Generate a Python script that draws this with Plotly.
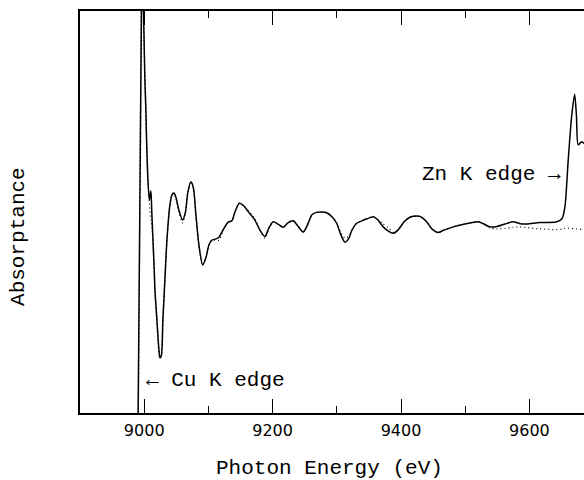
import plotly.graph_objects as go

# Photon energy (eV)
energy = [8985, 8990, 8996.5, 9001.1, 9002.6, 9003.7, 9005.8, 9008.1, 9010.4, 9012.0,
          9015.6, 9016.7, 9019.8, 9022.9, 9024.5, 9026.8, 9029.1, 9032.2, 9035.4, 9040.0,
          9043.1, 9046.3, 9049.4, 9054.0, 9059.8, 9064.2, 9068.1, 9072.7, 9076.6, 9080.5,
          9085.2, 9091.0, 9096.1, 9100.8, 9105.4, 9111.7, 9116.8, 9122.6, 9130.8, 9136.6,
          9141.3, 9148.0, 9155.3, 9162.0, 9172.4, 9180.2, 9188.0, 9194.2, 9200.9, 9208.3,
          9216.5, 9223.8, 9232.1, 9239.4, 9247.7, 9255.0, 9261.2, 9268.5, 9276.8, 9284.1,
          9292.4, 9299.7, 9306.4, 9312.6, 9318.9, 9323.5, 9330.8, 9339.1, 9346.9, 9356.7,
          9364.0, 9372.3, 9379.6, 9387.8, 9395.2, 9404.5, 9413.9, 9424.3, 9431.0, 9439.9,
          9448.1, 9457.9, 9466.8, 9481.3, 9499.5, 9520.2, 9529.1, 9538.5, 9549.4, 9561.8,
          9574.8, 9585.2, 9596.1, 9616.3, 9641.3, 9650.6, 9655.3, 9660.4, 9665.7, 9670.4,
          9673.2, 9676.0, 9681.3, 9684.9, 9694.2]

# Measured absorptance (arbitrary units, solid line)
absorp_measured = [-30, -10, 115, 82.8, 75.4, 67.9, 58.0, 53.0, 55.2, 49.3,
                   35.6, 30.6, 23.1, 15.7, 13.7, 14.4, 23.1, 33.1, 43.0, 51.7,
                   54.2, 54.7, 53.7, 50.5, 48.0, 50.0, 55.0, 57.5, 56.0, 49.3,
                   41.8, 36.8, 38.6, 41.8, 43.0, 43.3, 43.8, 45.5, 47.5, 47.8,
                   50.0, 52.2, 51.5, 50.1, 48.0, 45.5, 43.9, 46.0, 47.6, 47.0,
                   46.2, 47.3, 47.8, 46.5, 45.0, 47.0, 49.3, 49.9, 50.0, 49.8,
                   48.8, 47.2, 44.3, 42.5, 43.5, 45.5, 47.2, 47.8, 48.3, 48.8,
                   48.0, 46.3, 45.3, 44.7, 45.5, 47.5, 48.7, 49.0, 48.8, 47.6,
                   45.8, 44.9, 45.5, 46.3, 47.0, 47.6, 47.0, 46.3, 46.4, 47.0,
                   47.6, 47.1, 47.0, 47.4, 47.5, 48.3, 51.3, 62.9, 73.7, 79.3,
                   74.1, 66.7, 67.5, 67.1, 66.4]

# Calculated absorptance (arbitrary units, dotted line)
absorp_calc = [-30, -10, 115, 82.8, 75.4, 67.9, 58.0, 52.0, 48.0, 46.5,
               35.6, 30.6, 23.1, 15.7, 13.7, 14.4, 23.1, 33.1, 43.0, 51.7,
               54.2, 54.7, 53.2, 50.0, 47.3, 49.6, 55.0, 57.5, 56.0, 49.3,
               41.8, 36.8, 38.6, 41.8, 43.0, 43.0, 43.0, 45.3, 47.5, 47.8,
               50.0, 52.2, 51.5, 50.4, 48.3, 45.5, 43.5, 46.0, 47.6, 47.0,
               46.2, 47.3, 47.8, 46.5, 45.0, 47.0, 49.3, 49.9, 50.0, 49.8,
               48.8, 47.4, 44.8, 43.5, 44.0, 45.5, 47.2, 47.8, 48.3, 48.8,
               48.2, 47.0, 46.2, 45.0, 45.5, 47.5, 48.7, 49.0, 48.8, 47.6,
               45.8, 44.9, 45.5, 46.3, 47.0, 47.6, 47.0, 46.0, 45.8, 45.9,
               46.2, 46.3, 46.1, 45.8, 45.6, 45.7, 45.9, 46.0, 45.9, 45.8,
               45.8, 45.7, 45.7, 45.7, 45.6]

x_ticks = [9000, 9200, 9400, 9600]
x_tick_labels = ["9000", "9200", "9400", "9600"]

MONO = "Liberation Mono"

fig = go.Figure()
fig.add_trace(go.Scatter(x=energy, y=absorp_calc, mode="lines",
                         line=dict(color="black", width=1.2, dash="1px,3px",
                                   shape="spline", smoothing=0.7),
                         showlegend=False, hoverinfo="skip"))
fig.add_trace(go.Scatter(x=energy, y=absorp_measured, mode="lines",
                         line=dict(color="black", width=1.5,
                                   shape="spline", smoothing=0.7),
                         showlegend=False, hoverinfo="skip"))

fig.update_layout(
    width=584, height=480,
    margin=dict(l=80, r=0, t=11, b=67),
    paper_bgcolor="white", plot_bgcolor="white",
    xaxis=dict(range=[8900, 9685], showgrid=False, zeroline=False,
               showline=True, linecolor="black", linewidth=1.5, mirror="allticks",
               ticks="inside", ticklen=14, tickwidth=1.3, tickcolor="black",
               tickvals=x_ticks, ticktext=x_tick_labels,
               tickfont=dict(family="DejaVu Sans", size=16, color="black"),
               ticklabelstandoff=2,
               minor=dict(dtick=100, tick0=9000, ticks="inside", ticklen=7,
                          tickwidth=1.3, tickcolor="black", showgrid=False)),
    yaxis=dict(range=[0, 100], showgrid=False, zeroline=False,
               showline=True, linecolor="black", linewidth=1.5, mirror=False,
               ticks="", showticklabels=False),
    annotations=[
        dict(text="Photon Energy (eV)", xref="paper", yref="paper",
             x=0.4954, y=-0.139, xanchor="center", yanchor="middle",
             showarrow=False, font=dict(family=MONO, size=21, color="black")),
        dict(text="Absorptance", xref="paper", yref="paper",
             x=-0.121, y=0.438, xanchor="center", yanchor="middle", textangle=-90,
             showarrow=False, font=dict(family=MONO, size=21, color="black")),
        dict(text="← Cu K edge", xref="x", yref="y",
             x=9111.7, y=8.0, xanchor="center", yanchor="middle",
             showarrow=False, font=dict(family=MONO, size=21, color="black")),
        dict(text="Zn K edge →", xref="x", yref="y",
             x=9541.6, y=59.3, xanchor="center", yanchor="middle",
             showarrow=False, font=dict(family=MONO, size=21, color="black")),
    ],
)

fig.write_html("out.html")
